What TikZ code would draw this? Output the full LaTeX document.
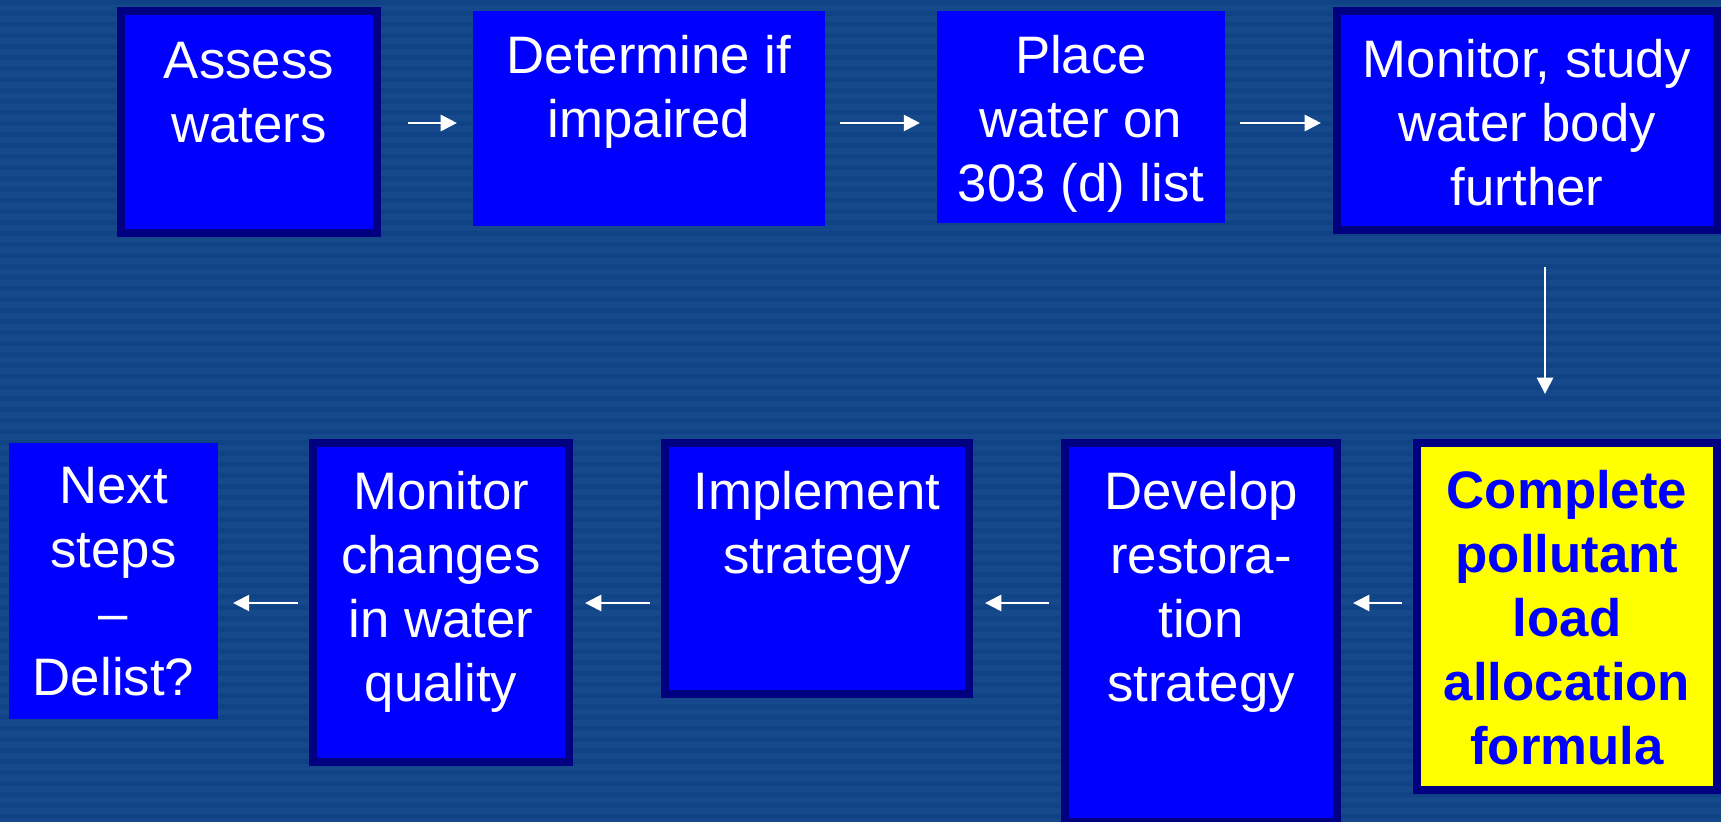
\documentclass[tikz,border=0pt]{standalone}
\usepackage{fontspec}
\setmainfont{Liberation Sans}
\usetikzlibrary{calc,arrows.meta}

\definecolor{slide}{RGB}{22,73,139}
\definecolor{slidedark}{RGB}{16,67,133}
\definecolor{boxblue}{RGB}{0,0,255}
\definecolor{boxrim}{RGB}{0,0,128}
\definecolor{boxyellow}{RGB}{255,255,0}

\tikzset{
	stage/.style={fill=boxblue, inner sep=0, outer sep=0},
	rimmed/.style={stage, draw=boxrim, line width=0.8mm},
	stagetext/.style={anchor=north, inner sep=0, align=center, text=white,
		font=\fontsize{15}{18.2}\selectfont},
	flow/.style={draw=white, line width=0.6pt, -{Triangle[length=4.6pt,width=4.6pt]}}
}

\begin{document}
\begin{tikzpicture}[x=0.01cm, y=-0.01cm]
			%%%%% BACKGROUND %%%%%
			\useasboundingbox (0,0) rectangle (1721,822);
			\clip (0,0) rectangle (1721,822);
			\fill[slide] (0,0) rectangle (1721,822);
			\foreach \y in {0,11,...,822}
				\fill[slidedark] (0,\y) rectangle (1721,\y+5);
			
			\coordinate (toprow) at (0,123);
			\coordinate (botrow) at (0,603);
			\coordinate (downcol) at (1545,0);
			
			%%%%% TOP ROW %%%%%
			\node[rimmed, minimum width=25.6mm, minimum height=22.2mm] (assess) at (249,122) {};
			\node[stage, minimum width=35.2mm, minimum height=21.5mm] (determine) at (649,118.5) {};
			\node[stage, minimum width=28.8mm, minimum height=21.2mm] (place) at (1081,117) {};
			\node[rimmed, minimum width=38.0mm, minimum height=21.9mm] (monitor) at (1527,120.5) {};
			
			\node[stagetext] (assess-t) at ($(assess.north)+(0,31)$) {Assess\\waters};
			\node[stagetext] (determine-t) at ($(determine.north)+(0,24)$) {Determine if\\impaired};
			\node[stagetext] (place-t) at ($(place.north)+(0,24)$) {Place\\water on\\303 (d) list};
			\node[stagetext] (monitor-t) at ($(monitor.north)+(0,28)$) {Monitor, study\\water body\\further};
			
			%%%%% BOTTOM ROW %%%%%
			\node[rimmed, fill=boxyellow, minimum width=30.0mm, minimum height=34.7mm] (complete) at (1567,616.5) {};
			\node[rimmed, minimum width=27.2mm, minimum height=37.9mm] (develop) at (1201,632.5) {};
			\node[rimmed, minimum width=30.4mm, minimum height=25.1mm] (implement) at (817,568.5) {};
			\node[rimmed, minimum width=25.6mm, minimum height=31.9mm] (changes) at (441,602.5) {};
			\node[stage, minimum width=20.9mm, minimum height=27.6mm] (next) at (113.5,581) {};
			
			\node[stagetext, text=boxblue, font=\fontsize{15}{18.2}\selectfont\bfseries] (complete-t) at ($(complete.north)+(0,27)$) {Complete\\pollutant\\load\\allocation\\formula};
			\node[stagetext] (develop-t) at ($(develop.north)+(0,28)$) {Develop\\restora-\\tion\\strategy};
			\node[stagetext] (implement-t) at ($(implement.north)+(0,28)$) {Implement\\strategy};
			\node[stagetext] (changes-t) at ($(changes.north)+(0,28)$) {Monitor\\changes\\in water\\quality};
			\node[stagetext] (next-t) at ($(next.north)+(0,24)$) {Next\\steps\\–\\Delist?};
			
			%%%%% ARROWS %%%%%
			\draw[flow] ($(assess.east |- toprow)+(31,0)$) -- ($(determine.west |- toprow)+(-16,0)$);
			\draw[flow] ($(determine.east |- toprow)+(15,0)$) -- ($(place.west |- toprow)+(-17,0)$);
			\draw[flow] ($(place.east |- toprow)+(15,0)$) -- ($(monitor.west |- toprow)+(-16,0)$);
			\draw[flow] ($(monitor.south -| downcol)+(0,37)$) -- ($(complete.north -| downcol)+(0,-49)$);
			\draw[flow] ($(complete.west |- botrow)+(-15,0)$) -- ($(develop.east |- botrow)+(16,0)$);
			\draw[flow] ($(develop.west |- botrow)+(-16,0)$) -- ($(implement.east |- botrow)+(16,0)$);
			\draw[flow] ($(implement.west |- botrow)+(-15,0)$) -- ($(changes.east |- botrow)+(16,0)$);
			\draw[flow] ($(changes.west |- botrow)+(-15,0)$) -- ($(next.east |- botrow)+(15,0)$);
			
			%%%%% END %%%%%
\end{tikzpicture}
\end{document}
